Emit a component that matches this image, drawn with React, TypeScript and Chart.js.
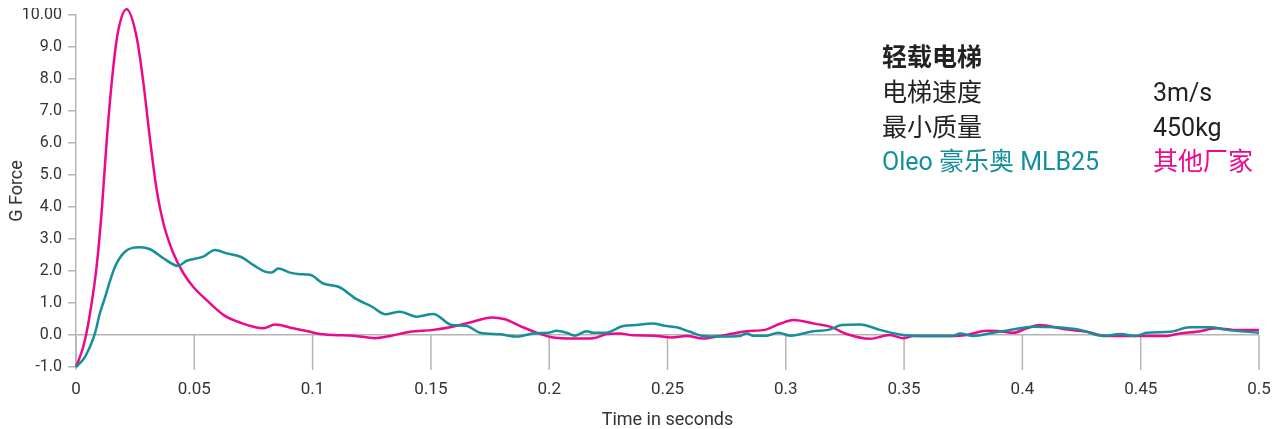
import React, { useEffect, useRef } from "react";
import { Chart, registerables } from "chart.js";
Chart.register(...registerables);

// Oleo 豪乐奥 MLB25 (teal)
const oleoTime = [0, 0.0038, 0.008, 0.0101, 0.0115, 0.0165, 0.0207, 0.027, 0.0313, 0.0369, 0.0432, 0.0468, 0.0538, 0.0587, 0.0637, 0.07, 0.0749, 0.0799, 0.0827, 0.0855, 0.0904, 0.0947, 0.0989, 0.1045, 0.1112, 0.1186, 0.125, 0.1306, 0.1369, 0.144, 0.151, 0.1588, 0.1651, 0.1708, 0.1792, 0.1863, 0.1933, 0.1996, 0.2032, 0.2074, 0.2109, 0.2158, 0.2186, 0.2236, 0.2313, 0.237, 0.2433, 0.2497, 0.2539, 0.2595, 0.2651, 0.2722, 0.2806, 0.2835, 0.2863, 0.2919, 0.2968, 0.3022, 0.3116, 0.318, 0.3236, 0.3314, 0.3398, 0.3497, 0.36, 0.3708, 0.3736, 0.3792, 0.3877, 0.3948, 0.4046, 0.4145, 0.4244, 0.4343, 0.4414, 0.4477, 0.4526, 0.4624, 0.4708, 0.4793, 0.4864, 0.5];
const oleoForce = [-1.0, -0.68, 0.05, 0.68, 1.0, 2.13, 2.6, 2.74, 2.68, 2.4, 2.16, 2.32, 2.45, 2.66, 2.55, 2.43, 2.19, 1.98, 1.95, 2.08, 1.95, 1.9, 1.88, 1.61, 1.5, 1.12, 0.89, 0.65, 0.73, 0.57, 0.66, 0.31, 0.28, 0.07, 0.02, -0.05, 0.05, 0.07, 0.13, 0.07, -0.02, 0.12, 0.07, 0.07, 0.28, 0.31, 0.36, 0.28, 0.24, 0.1, -0.03, -0.05, -0.03, 0.05, -0.02, -0.02, 0.07, -0.02, 0.12, 0.16, 0.31, 0.33, 0.16, 0.0, -0.03, -0.03, 0.05, -0.03, 0.07, 0.16, 0.26, 0.24, 0.16, -0.03, 0.03, -0.03, 0.07, 0.1, 0.24, 0.24, 0.16, 0.07];

// 其他厂家 (magenta)
const otherTime = [0, 0.0031, 0.0052, 0.0087, 0.0109, 0.013, 0.0158, 0.0179, 0.0214, 0.0256, 0.0285, 0.0313, 0.0341, 0.0369, 0.0411, 0.0454, 0.0496, 0.0552, 0.0623, 0.0693, 0.0792, 0.0841, 0.0918, 0.0989, 0.1017, 0.1088, 0.1172, 0.1264, 0.1314, 0.1412, 0.151, 0.1581, 0.1665, 0.1757, 0.1813, 0.1877, 0.1947, 0.2017, 0.2102, 0.2186, 0.2243, 0.2299, 0.2355, 0.244, 0.2518, 0.2581, 0.2651, 0.2708, 0.2778, 0.2835, 0.2912, 0.2975, 0.3032, 0.3131, 0.3187, 0.3257, 0.3356, 0.344, 0.3497, 0.3539, 0.3708, 0.3764, 0.3849, 0.3905, 0.3962, 0.4018, 0.4074, 0.4173, 0.4272, 0.4357, 0.447, 0.461, 0.4666, 0.4737, 0.4822, 0.4892, 0.5];
const otherForce = [-1.0, -0.36, 0.36, 2.13, 3.9, 6.1, 8.4, 9.53, 10.18, 9.32, 7.87, 6.1, 4.53, 3.5, 2.56, 1.93, 1.5, 1.09, 0.63, 0.39, 0.21, 0.33, 0.21, 0.1, 0.05, 0.0, -0.02, -0.1, -0.05, 0.1, 0.16, 0.24, 0.39, 0.55, 0.49, 0.28, 0.07, -0.08, -0.11, -0.1, 0.03, 0.05, -0.01, -0.02, -0.08, -0.03, -0.11, -0.05, 0.05, 0.12, 0.16, 0.35, 0.47, 0.34, 0.26, 0.03, -0.12, 0.0, -0.1, -0.03, -0.03, 0.0, 0.13, 0.12, 0.07, 0.21, 0.31, 0.19, 0.1, -0.03, -0.03, -0.03, 0.05, 0.1, 0.21, 0.16, 0.16];

const seriesNames = ["Oleo 豪乐奥 MLB25", "其他厂家"];
const infoTitle = "轻载电梯";
const infoRows = [
  ["电梯速度", "3m/s"],
  ["最小质量", "450kg"],
];
const xTitle = "Time in seconds";
const yTitle = "G Force";

const TEAL = "#13909a";
const MAGENTA = "#ec0a8c";
const AXIS = "#b4b4b4";
const FONT = "Roboto, 'Noto Sans CJK SC', sans-serif";

const axisMarks = {
  id: "axisMarks",
  beforeDatasetsDraw(chart: any) {
    const { ctx, chartArea, scales } = chart;
    const x = scales.x;
    const y = scales.y;
    const y0 = y.getPixelForValue(0);
    ctx.save();
    ctx.strokeStyle = AXIS;
    ctx.lineWidth = 1.5;
    x.ticks.forEach((t: any) => {
      const px = x.getPixelForValue(t.value);
      ctx.beginPath();
      ctx.moveTo(px, y0);
      ctx.lineTo(px, chartArea.bottom + 3);
      ctx.stroke();
    });
    ctx.restore();
  },
};

export default function App() {
  const ref = useRef<HTMLCanvasElement | null>(null);
  useEffect(() => {
    if (!ref.current) return;
    const chart = new Chart(ref.current, {
      type: "line",
      data: {
        datasets: [
          {
            label: seriesNames[0],
            data: oleoTime.map((t, i) => ({ x: t, y: oleoForce[i] })),
            borderColor: TEAL,
            borderWidth: 2.5,
            pointRadius: 0,
            cubicInterpolationMode: "monotone",
            clip: 12,
          } as any,
          {
            label: seriesNames[1],
            data: otherTime.map((t, i) => ({ x: t, y: otherForce[i] })),
            borderColor: MAGENTA,
            borderWidth: 2.5,
            pointRadius: 0,
            cubicInterpolationMode: "monotone",
            clip: 12,
          } as any,
        ],
      },
      options: {
        animation: false,
        responsive: true,
        maintainAspectRatio: false,
        layout: { padding: { top: 7, right: 15, bottom: 0, left: 0 } },
        plugins: { legend: { display: false }, tooltip: { enabled: false } },
        scales: {
          x: {
            type: "linear",
            min: 0,
            max: 0.5,
            afterFit: (s: any) => {
              s.height = 62;
              s.paddingLeft = 0;
              s.paddingRight = 0;
            },
            ticks: {
              stepSize: 0.05,
              padding: 13,
              color: "#333",
              font: { family: FONT, size: 17 },
              callback: (v: any) => String(Number(Number(v).toFixed(2))),
            },
            grid: { display: false, drawTicks: false },
            border: { display: false },
            title: {
              display: true,
              text: xTitle,
              color: "#333",
              font: { family: FONT, size: 18, lineHeight: 1 },
              padding: { top: 0, bottom: 0 },
            },
          },
          y: {
            min: -1,
            max: 10,
            afterFit: (s: any) => {
              s.width = 68;
              s.paddingTop = 0;
              s.paddingBottom = 0;
            },
            ticks: {
              stepSize: 1,
              padding: 6,
              color: "#333",
              font: { family: FONT, size: 16 },
              callback: (v: any) => (Number(v) === 10 ? "10.00" : Number(v).toFixed(1)),
            },
            grid: {
              display: true,
              drawOnChartArea: true,
              color: (c: any) => (c.tick && c.tick.value === 0 ? AXIS : "rgba(0,0,0,0)"),
              tickColor: AXIS,
              tickLength: 8,
              lineWidth: 1.5,
            },
            border: { display: true, color: AXIS, width: 1.5 },
            title: {
              display: true,
              text: yTitle,
              color: "#333",
              font: { family: FONT, size: 18, lineHeight: 1 },
              padding: { top: 0, bottom: 0 },
            },
          },
        },
      },
      plugins: [axisMarks],
    });
    return () => chart.destroy();
  }, []);

  const textBase: React.CSSProperties = {
    position: "absolute",
    fontFamily: FONT,
    fontSize: 25,
    lineHeight: "25px",
    whiteSpace: "nowrap",
    color: "#222",
  };
  const rowTops = [72, 106.5];
  return (
    <div style={{ position: "relative", width: 1266, height: 421 }}>
      <canvas ref={ref} />
      <div style={{ ...textBase, left: 874, top: 37, fontWeight: 700 }}>{infoTitle}</div>
      {infoRows.map((r, i) => (
        <React.Fragment key={i}>
          <div style={{ ...textBase, left: 874, top: rowTops[i] }}>{r[0]}</div>
          <div style={{ ...textBase, left: 1145, top: rowTops[i] }}>{r[1]}</div>
        </React.Fragment>
      ))}
      <div style={{ ...textBase, left: 874, top: 140.5, color: TEAL }}>{seriesNames[0]}</div>
      <div style={{ ...textBase, left: 1145, top: 140.5, color: MAGENTA }}>{seriesNames[1]}</div>
    </div>
  );
}
